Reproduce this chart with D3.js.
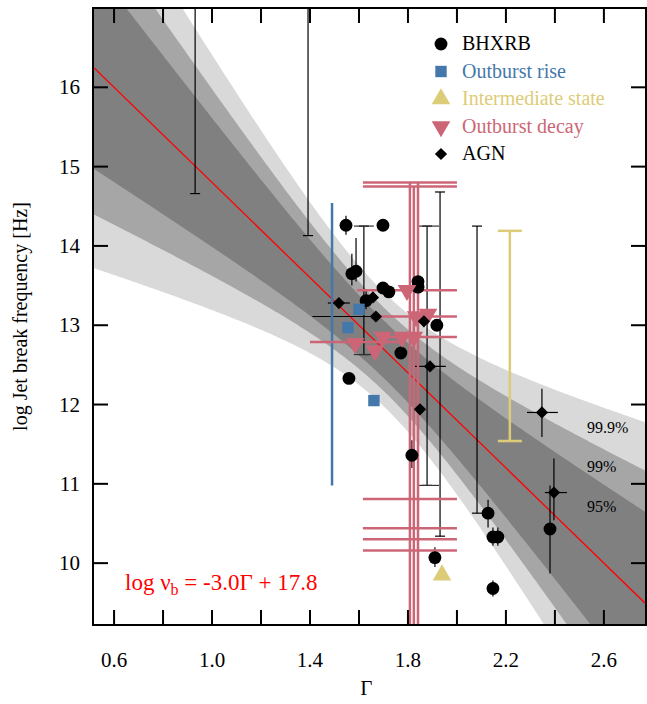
<!DOCTYPE html>
<html><head><meta charset="utf-8">
<script src="https://d3js.org/d3.v7.min.js"></script>
<style>body{margin:0;background:#fff}</style>
</head><body>
<svg id="main_canvas" width="647" height="704" font-family="Times New Roman, Liberation Serif, DejaVu Serif, serif"></svg>
<script>
// data: [Gamma, log nu_b]
const bhxrb = [[1.547,14.26],[1.698,14.26],[1.571,13.65],[1.588,13.68],[1.698,13.47],[1.722,13.42],
  [1.629,13.31],[1.841,13.55],[1.841,13.48],[1.918,13.0],[1.771,12.65],[1.559,12.33],[1.816,11.36],
  [1.910,10.07],[2.127,10.63],[2.147,10.33],[2.167,10.33],[2.147,9.68],[2.38,10.43]];
const rise = [[1.6,13.2],[1.555,12.97],[1.661,12.05]];
const intermediate = [[1.939,9.85]];
const decay = [[1.796,13.44],[1.833,13.11],[1.882,13.14],[1.584,12.77],[1.665,12.68],[1.698,12.85],[1.776,12.85],[1.824,12.85]];
const agn = [[1.518,13.28],[1.657,13.35],[1.669,13.11],[1.865,13.05],[1.890,12.48],[1.849,11.94],[2.347,11.90],[2.396,10.89]];

// error bars: vertical [Gamma, top, bottom, capTop, capBottom], horizontal [log nu, left, right]
const blackV = [[0.931,17.3,14.66,0,1],[1.392,17.3,14.13,0,1],[1.620,14.25,12.63,1,1],[1.878,14.25,10.98,1,1],
  [1.931,14.68,10.34,1,1],[2.082,14.25,10.63,1,1],[2.347,12.2,11.59,0,0],[2.396,11.32,10.54,0,0],
  [2.38,10.98,9.87,0,0],[1.547,14.38,14.14,0,0],[1.571,13.9,13.5,0,0],[1.588,14.1,13.55,0,0],
  [2.127,10.8,10.45,0,0],[2.147,10.45,10.22,0,0],[2.167,10.45,10.22,0,0],[2.147,9.78,9.58,0,0],
  [1.910,10.2,9.95,0,0],[1.816,11.55,11.2,0,0],[1.629,13.45,13.2,0,0]];
const blackH = [[11.90,2.286,2.412],[10.89,2.359,2.449],[12.48,1.824,1.955],[13.28,1.473,1.563],[13.11,1.41,1.66]];
const riseV = [[1.49,14.54,10.98]];
const interV = [[2.216,14.19,11.54]];
const decayV = [[1.808,14.80,9.0],[1.824,14.75,9.0],[1.841,14.80,9.0]];
const decayH = [[14.80,1.616,2.0],[14.75,1.616,2.0],[13.44,1.592,2.0],[13.11,1.686,2.0],[12.85,1.686,2.0],
  [12.79,1.4,1.767],[10.81,1.616,2.0],[10.44,1.616,2.0],[10.30,1.616,2.0],[10.16,1.616,2.0]];

const fit = {slope:-3.0, icpt:17.8};
const bandLevels = ["99.9%","99%","95%"];
const bandScale = [1.98,1.45,1.0];
const bandFill = ["#d9d9d9","#a6a6a6","#808080"];
const xTicks = [0.6,1.0,1.4,1.8,2.2,2.6];
const yTicks = [10,11,12,13,14,15,16];

const W=647,H=704, m={left:93,right:0,top:8,bottom:79};
const svg=d3.select("#main_canvas");
const x=d3.scaleLinear().domain([0.514,2.776]).range([m.left,W-m.right]);
const y=d3.scaleLinear().domain([9.22,17.0]).range([H-m.bottom,m.top]);
svg.append("clipPath").attr("id","clip").append("rect")
  .attr("x",m.left).attr("y",m.top).attr("width",W-m.left-m.right).attr("height",H-m.top-m.bottom);
const plot=svg.append("g").attr("clip-path","url(#clip)");

// confidence bands
const hw = g => Math.sqrt(0.132+1.06*(g-1.706)**2);
const gs = d3.range(0.5,2.8,0.01);
const line = g => fit.icpt+fit.slope*g;
bandScale.forEach((k,i)=>{
  plot.append("path").attr("fill",bandFill[i])
    .attr("d",d3.area().x(g=>x(g)).y0(g=>y(line(g)-k*hw(g))).y1(g=>y(line(g)+k*hw(g)))(gs));
});
plot.append("line").attr("x1",x(0.5)).attr("x2",x(2.8)).attr("y1",y(line(0.5))).attr("y2",y(line(2.8)))
  .attr("stroke","red").attr("stroke-width",1.3);

const col={blk:"#000",rise:"#4477aa",inter:"#ddcc77",decay:"#cc6677"};
function vbars(data,c,w){
  data.forEach(d=>{
    plot.append("line").attr("x1",x(d[0])).attr("x2",x(d[0])).attr("y1",y(d[1])).attr("y2",y(d[2]))
      .attr("stroke",c).attr("stroke-width",w);
    if(d[3]) plot.append("line").attr("x1",x(d[0])-5).attr("x2",x(d[0])+5).attr("y1",y(d[1])).attr("y2",y(d[1])).attr("stroke",c).attr("stroke-width",w);
    if(d[4]) plot.append("line").attr("x1",x(d[0])-5).attr("x2",x(d[0])+5).attr("y1",y(d[2])).attr("y2",y(d[2])).attr("stroke",c).attr("stroke-width",w);
  });
}
function hbars(data,c,w){
  data.forEach(d=>plot.append("line").attr("x1",x(d[1])).attr("x2",x(d[2])).attr("y1",y(d[0])).attr("y2",y(d[0]))
    .attr("stroke",c).attr("stroke-width",w));
}
vbars(blackV,col.blk,1.2); hbars(blackH,col.blk,1.2);
// wider caps on some black bars
[[1.620,14.25],[1.620,12.63],[1.878,14.25],[1.878,10.98]].forEach(d=>
  plot.append("line").attr("x1",x(d[0])-10).attr("x2",x(d[0])+(d[0]>1.8?12:10)).attr("y1",y(d[1])).attr("y2",y(d[1])).attr("stroke","#333").attr("stroke-width",1.2));
vbars(riseV,col.rise,2.5);
vbars(interV,col.inter,2.5);
[11.54,14.19].forEach(v=>plot.append("line").attr("x1",x(2.216)-12).attr("x2",x(2.216)+12).attr("y1",y(v)).attr("y2",y(v)).attr("stroke",col.inter).attr("stroke-width",2.5));
vbars(decayV,col.decay,2.5); hbars(decayH,col.decay,2.5);

const sym={
  circle:d3.symbol().type(d3.symbolCircle).size(130),
  square:d3.symbol().type(d3.symbolSquare).size(130),
  tri:d3.symbol().type(d3.symbolTriangle).size(150),
  diamond:d3.symbol().type(d3.symbolSquare).size(75)
};
function pts(data,s,c,rot){
  plot.selectAll(null).data(data).join("path").attr("d",s).attr("fill",c)
    .attr("transform",d=>`translate(${x(d[0])},${y(d[1])}) rotate(${rot})`);
}
pts(bhxrb,sym.circle,col.blk,0);
pts(rise,sym.square,col.rise,0);
pts(intermediate,sym.tri,col.inter,0);
pts(decay,sym.tri,col.decay,180);
pts(agn,sym.diamond,col.blk,45);

// frame and ticks
svg.append("rect").attr("x",m.left).attr("y",m.top).attr("width",W-m.left-m.right-1).attr("height",H-m.top-m.bottom)
  .attr("fill","none").attr("stroke","#000").attr("stroke-width",2);
d3.range(0.6,2.71,0.2).forEach(t=>{
  svg.append("line").attr("x1",x(t)).attr("x2",x(t)).attr("y1",H-m.bottom).attr("y2",H-m.bottom-15).attr("stroke","#000").attr("stroke-width",2);
  svg.append("line").attr("x1",x(t)).attr("x2",x(t)).attr("y1",m.top).attr("y2",m.top+15).attr("stroke","#000").attr("stroke-width",2);
});
yTicks.forEach(t=>{
  svg.append("line").attr("x1",m.left).attr("x2",m.left+15).attr("y1",y(t)).attr("y2",y(t)).attr("stroke","#000").attr("stroke-width",2);
  svg.append("line").attr("x1",W-1).attr("x2",W-16).attr("y1",y(t)).attr("y2",y(t)).attr("stroke","#000").attr("stroke-width",2);
  svg.append("text").attr("x",m.left-13).attr("y",y(t)+7).attr("text-anchor","end")
    .attr("font-size",21).text(t);
});
xTicks.forEach(t=>svg.append("text").attr("x",x(t)).attr("y",H-m.bottom+42).attr("text-anchor","middle")
  .attr("font-size",21).text(t.toFixed(1)));
svg.append("text").attr("x",x(1.63)).attr("y",H-9).attr("text-anchor","middle").attr("font-size",21).text("Γ");
svg.append("text").attr("transform",`translate(27,${(m.top+H-m.bottom)/2}) rotate(-90)`).attr("text-anchor","middle")
  .attr("font-size",20).text("log Jet break frequency [Hz]");

// band labels
bandLevels.forEach((l,i)=>svg.append("text").attr("x",587).attr("y",[433,472,512][i])
  .attr("font-size",16).text(l));

// equation
const eq=svg.append("text").attr("x",125).attr("y",590).attr("fill","red").attr("font-size",23);
eq.append("tspan").text("log ν");
eq.append("tspan").attr("dy",5).attr("font-size",16).text("b");
eq.append("tspan").attr("dy",-5).text(" = -3.0Γ + 17.8");

// legend
const legend=[["BHXRB",sym.circle,col.blk,0,"#000"],["Outburst rise",sym.square,col.rise,0,col.rise],
  ["Intermediate state",sym.tri,col.inter,0,col.inter],["Outburst decay",sym.tri,col.decay,180,col.decay],
  ["AGN",sym.diamond,col.blk,45,"#000"]];
legend.forEach((d,i)=>{
  const yy=44+i*27.5;
  svg.append("path").attr("d",d[1]).attr("fill",d[2]).attr("transform",`translate(441,${yy}) rotate(${d[3]})`);
  svg.append("text").attr("x",462).attr("y",yy+6).attr("fill",d[4]).attr("font-size",20).text(d[0]);
});
</script>
</body></html>
